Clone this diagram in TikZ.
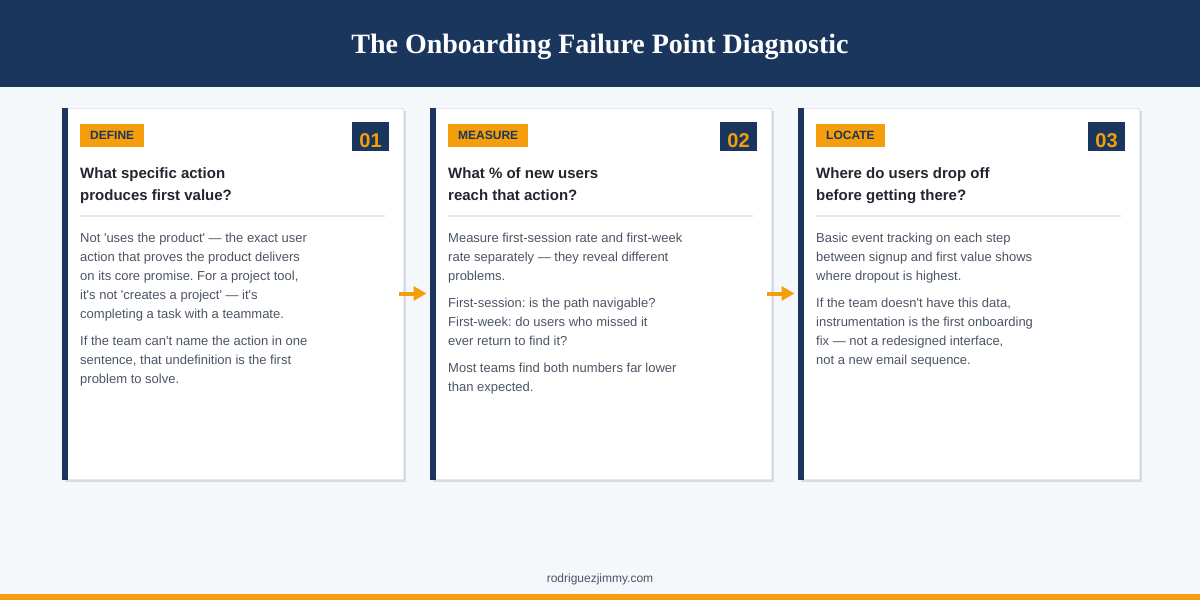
\documentclass[tikz,border=0pt]{standalone}
\usepackage{fontspec}
\setmainfont{Liberation Sans}
\newfontfamily\titleserif{Liberation Serif}
\usetikzlibrary{arrows.meta}
\definecolor{navy}{HTML}{1B365D}
\definecolor{orng}{HTML}{F59E0B}
\definecolor{bg}{HTML}{F5F8FB}
\definecolor{ink}{HTML}{22262E}
\definecolor{gray1}{HTML}{4B5563}
\definecolor{rulec}{HTML}{E2E8F0}
\definecolor{shadowc}{HTML}{D5DCE5}
\frenchspacing
\tikzset{
  cardbox/.style={draw=rulec, line width=1pt, fill=white, minimum width=341pt, minimum height=371pt, inner sep=0pt},
  tagbox/.style={fill=orng, text=navy, font=\bfseries\fontsize{12}{14}\selectfont, minimum height=23pt, inner xsep=10pt, inner ysep=0pt, anchor=north west},
  numbox/.style={fill=navy, minimum width=37pt, minimum height=29pt, inner sep=0pt},
  numtext/.style={text=orng, font=\bfseries\fontsize{20}{24}\selectfont, inner sep=0pt, anchor=base},
  qtext/.style={text=ink, font=\bfseries\fontsize{15}{18}\selectfont, inner sep=0pt, anchor=base west},
  body/.style={text=gray1, font=\fontsize{13}{16}\selectfont, inner sep=0pt, anchor=base west},
  flow/.style={draw=orng, line width=4pt, -{Triangle[length=13pt,width=14pt]}},
}
\newcommand\mycard[6]{%
  \fill[shadowc] (#1+3,111) rectangle (#1+344,482);
  \node[cardbox] (card#2) at (#1+170.5,293.5) {};
  \fill[navy] (card#2.north west) rectangle ([xshift=6pt]card#2.south west);
  \node[tagbox] (tag#2) at (#1+18,124) {#3};
  \node[numbox] (num#2) at (#1+308.5,136.5) {};
  \node[numtext] (numt#2) at (#1+308.5,147) {#4};
  \node[qtext] (qa#2) at (#1+18,178) {#5};
  \node[qtext] (qb#2) at (#1+18,200) {#6};
  \draw[rulec, line width=2pt] (#1+18,216) -- (#1+323,216);
}
\newcommand\bodylines[4]{%
  \foreach \t [count=\i from 0] in {#4} \node[body] (#1l\i) at (#2,{#3+19*\i}) {\t};
}
\def\q{\textquotesingle}
\begin{document}
\begin{tikzpicture}[x=1pt,y=-1pt]
\useasboundingbox (0,0) rectangle (1200,600);
\fill[bg] (0,0) rectangle (1200,600);
\fill[navy] (0,0) rectangle (1200,87);
\node[text=white, font=\titleserif\bfseries\fontsize{28}{32}\selectfont, inner sep=0pt, anchor=base] (title) at (600,53) {The Onboarding Failure Point Diagnostic};
\fill[orng] (0,594) rectangle (1200,600);
\node[text=gray1, font=\fontsize{12}{14}\selectfont, inner sep=0pt, anchor=base] (footer) at (600,582) {rodriguezjimmy.com};

\mycard{62}{1}{DEFINE}{01}{What specific action}{produces first value?}
\mycard{430}{2}{MEASURE}{02}{What \% of new users}{reach that action?}
\mycard{798}{3}{LOCATE}{03}{Where do users drop off}{before getting there?}

\bodylines{c1p1}{80}{242}{{Not \q uses the product\q{} — the exact user},{action that proves the product delivers},{on its core promise. For a project tool,},{it\q s not \q creates a project\q{} — it\q s},{completing a task with a teammate.}}
\bodylines{c1p2}{80}{345}{{If the team can\q t name the action in one},{sentence, that undefinition is the first},{problem to solve.}}

\bodylines{c2p1}{448}{242}{{Measure first-session rate and first-week},{rate separately — they reveal different},{problems.}}
\bodylines{c2p2}{448}{307}{{First-session: is the path navigable?},{First-week: do users who missed it},{ever return to find it?}}
\bodylines{c2p3}{448}{372}{{Most teams find both numbers far lower},{than expected.}}

\bodylines{c3p1}{816}{242}{{Basic event tracking on each step},{between signup and first value shows},{where dropout is highest.}}
\bodylines{c3p2}{816}{307}{{If the team doesn\q t have this data,},{instrumentation is the first onboarding},{fix — not a redesigned interface,},{not a new email sequence.}}

\draw[flow] ([xshift=-5pt]card1.east) -- ([xshift=-3pt]card2.west);
\draw[flow] ([xshift=-5pt]card2.east) -- ([xshift=-3pt]card3.west);
\end{tikzpicture}
\end{document}
